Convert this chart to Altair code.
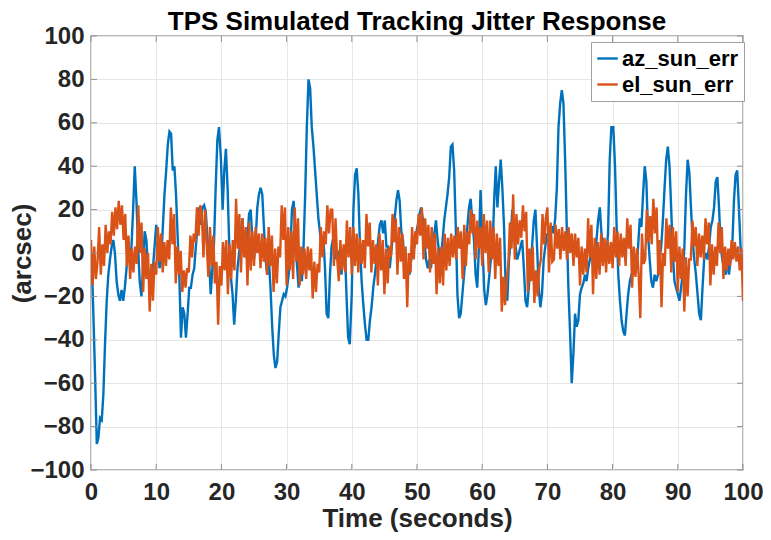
import altair as alt
import pandas as pd

# ---- data ----
az_time = [0, 0.13, 0.38, 0.63, 0.89, 1.14, 1.39, 1.65, 1.9, 2.15, 2.41, 2.66, 2.91, 3.17, 3.42, 3.67, 3.93, 4.18, 4.43, 4.69,
           4.94, 5.19, 5.45, 5.7, 5.95, 6.21, 6.46, 6.71, 6.97, 7.22, 7.47, 7.73, 7.98, 8.23, 8.49, 8.74, 8.99, 9.25, 9.5, 9.75,
           10.0, 10.26, 10.51, 10.77, 11.02, 11.27, 11.53, 11.78, 12.03, 12.28, 12.54, 12.79, 13.04, 13.3, 13.55, 13.8, 14.06,
           14.31, 14.56, 14.82, 15.07, 15.32, 15.58, 15.83, 16.08, 16.34, 16.59, 16.84, 17.1, 17.35, 17.6, 17.86, 18.11, 18.36,
           18.62, 18.87, 19.12, 19.38, 19.63, 19.93, 20.19, 20.44, 20.69, 20.95, 21.2, 21.45, 21.71, 21.96, 22.21, 22.47, 22.72,
           22.97, 23.23, 23.48, 23.73, 23.99, 24.24, 24.49, 24.75, 25.0, 25.25, 25.51, 25.76, 26.01, 26.27, 26.52, 26.77, 27.03,
           27.28, 27.53, 27.79, 28.04, 28.29, 28.55, 28.8, 29.05, 29.31, 29.56, 29.81, 30.07, 30.32, 30.57, 30.82, 31.08, 31.33,
           31.58, 31.84, 32.09, 32.34, 32.6, 32.85, 33.1, 33.36, 33.61, 33.86, 34.12, 34.37, 34.62, 34.88, 35.13, 35.38, 35.64,
           35.89, 36.14, 36.4, 36.65, 36.9, 37.16, 37.41, 37.66, 37.92, 38.17, 38.42, 38.68, 38.93, 39.18, 39.44, 39.69, 39.99,
           40.25, 40.5, 40.75, 41.01, 41.26, 41.51, 41.77, 42.02, 42.27, 42.53, 42.78, 43.03, 43.29, 43.54, 43.79, 44.05, 44.3,
           44.55, 44.81, 45.06, 45.31, 45.57, 45.82, 46.07, 46.33, 46.58, 46.83, 47.09, 47.34, 47.59, 47.85, 48.1, 48.35, 48.61,
           48.86, 49.11, 49.37, 49.62, 49.87, 50.13, 50.38, 50.63, 50.88, 51.14, 51.39, 51.65, 51.9, 52.15, 52.4, 52.66, 52.91,
           53.16, 53.42, 53.67, 53.92, 54.18, 54.43, 54.68, 54.94, 55.19, 55.44, 55.7, 55.95, 56.2, 56.46, 56.71, 56.96, 57.22,
           57.47, 57.72, 57.98, 58.23, 58.48, 58.74, 58.99, 59.24, 59.5, 59.75, 60.05, 60.31, 60.56, 60.81, 61.07, 61.32, 61.57,
           61.83, 62.08, 62.33, 62.59, 62.84, 63.09, 63.35, 63.6, 63.85, 64.11, 64.36, 64.61, 64.87, 65.12, 65.37, 65.63, 65.88,
           66.13, 66.39, 66.64, 66.89, 67.15, 67.4, 67.65, 67.91, 68.16, 68.41, 68.67, 68.92, 69.17, 69.43, 69.68, 69.93, 70.19,
           70.44, 70.69, 70.95, 71.2, 71.45, 71.7, 71.96, 72.21, 72.46, 72.72, 72.97, 73.22, 73.48, 73.73, 73.98, 74.24, 74.49,
           74.74, 75.0, 75.25, 75.5, 75.76, 76.01, 76.26, 76.52, 76.77, 77.02, 77.28, 77.53, 77.78, 78.04, 78.29, 78.54, 78.8,
           79.05, 79.3, 79.56, 79.81, 80.11, 80.37, 80.62, 80.87, 81.13, 81.38, 81.63, 81.89, 82.14, 82.39, 82.65, 82.9, 83.15,
           83.41, 83.66, 83.91, 84.17, 84.42, 84.67, 84.93, 85.18, 85.43, 85.69, 85.94, 86.19, 86.45, 86.7, 86.95, 87.21, 87.46,
           87.71, 87.97, 88.22, 88.47, 88.73, 88.98, 89.23, 89.49, 89.74, 90.0, 90.25, 90.5, 90.75, 91.01, 91.26, 91.51, 91.77,
           92.02, 92.27, 92.53, 92.78, 93.03, 93.28, 93.54, 93.79, 94.04, 94.3, 94.55, 94.8, 95.06, 95.31, 95.56, 95.82, 96.07,
           96.32, 96.58, 96.83, 97.08, 97.34, 97.59, 97.85, 98.1, 98.35, 98.61, 98.86, 99.11, 99.37, 99.62, 99.87, 100]

az_sun_err = [-2, -5, -30, -57, -88, -85, -76, -77, -65, -42, -22, -10, -3, 3, 6, 0, -13, -19, -22, -17,
              -22, -16, -7, 3, -3, 3, 20, 40, 24, 3, -13, -20, -7, 10, 6, -7, -13, -10, -7, 3,
              13, 7, -7, -3, 12, 27, 38, 50, 56, 55, 38, 40, 27, 7, -11, -39, -25,
              -28, -39, -28, -16, -16, -10, -7, 3, 12, 21, 13, 21, 22, 19, 7, -3, -19,
              -7, 5, 30, 52, 58, 43, 20, 38, 48, 30, 4, -11, -19, -33, -22, -7, 0,
              9, 16, 3, -2, 6, 18, 20, 6, -3, 6, 21, 27, 30, 27, 12, -3, -10,
              -3, -16, -34, -47, -53, -50, -37, -25, -22, -19, -20, -16, -10, 0, 20, 24, 9,
              -5, -16, -7, -13, 3, 27, 58, 80, 76, 58, 49, 38, 27, 16, 9, 0, 7,
              -7, -28, -30, -10, 3, 7, 0, -3, 1, -3, -10, 0, 3, -19, -39, -42, -19,
              20, 36, 39, 27, 3, -13, -24, -33, -40, -40, -31, -25, -16, -10, -3, 6, 13,
              15, 9, 15, 3, 3, -7, 1, 9, 16, 24, 29, 24, 10, 6, -7, -10, -7,
              -10, -3, 1, 3, 9, 13, 18, 21, 16, 6, -3, -7, -3, -7, 3, 9, 15,
              6, 0, -3, 6, 15, 21, 27, 35, 49, 50, 38, 12, -19, -30, -28, -19, -10,
              0, 12, 21, 25, 15, 6, -10, -16, 3, 29, 3, -17, -24, -19, -11, -3, 0,
              24, 40, 21, 33, 43, 30, 12, -16, -22, -3, 6, 20, 9, 3, -3, 0, 3,
              6, -7, -22, -25, -16, -3, 3, 15, 20, 3, -16, -25, -19, -3, 3, 9, 6,
              12, 12, 9, 16, 30, 58, 69, 75, 69, 43, 12, -16, -37, -60, -47, -28, -34,
              -31, -19, -16, -14, -10, -13, -7, -3, 0, 3, 0, 6, 15, 21, 9, 3, -3,
              0, 9, 43, 58, 58, 40, 12, -10, -22, -31, -36, -38, -28, -19, -13, -10, -7,
              -10, -7, 3, 16, 12, 27, 40, 33, 9, -3, -13, -16, -10, -13, -10, -3, 3,
              15, 30, 43, 49, 40, 21, 0, -13, -16, -19, -22, -16, -10, 3, 27, 43, 37,
              21, 6, -3, -10, -19, -28, -31, -16, -3, 0, -3, 3, 12, 15, 21, 33, 35,
              21, 3, -3, -7, -10, -3, -10, -3, 3, 24, 36, 38, 21, 3, -7, -3]

# el_sun_err sampled every 0.25 s (4 readings per second, 0 .. 100 s)
el_sun_err = [
    6, -15, 3, -12, -4, 12, -10, 4, -6, 13, 0, 10, 4, 19, 8, 21, 11, 24, 13, 22,
    6, 18, -6, 8, -12, 2, -9, 3, -5, 22, 0, 14, -18, 2, -12, 0, -27, -5, -22, -4,
    -10, 12, -4, 9, -9, 5, -6, 6, -3, 21, 4, 18, -14, 3, -10, 1, -18, -8, -16, -7,
    -9, 8, -2, 9, 5, 21, 8, 22, 18, -2, 20, 4, -11, 12, -6, 8, -14, -4, -33, -6,
    -15, 5, -8, 6, -19, 4, -12, 6, -8, 25, 2, 18, -9, 16, -2, 12, -15, 14, -8, 10,
    -6, 12, 0, 9, -7, 9, -4, 7, -10, 12, -6, 8, -18, 2, -14, 3, -2, 22, 6, 21,
    -15, 12, -8, 10, -12, 21, -4, 16, -15, 3, -10, 2, -12, 3, -8, 2, -21, -4, -18, -5,
    -9, 12, -2, 10, 4, 22, 9, 20, 20, -6, 16, -2, -13, 6, -8, 4, -9, 15, -2, 12,
    -10, 12, -6, 9, -9, 7, -5, 6, -7, 18, 3, 14, -9, 6, -5, 4, -15, 9, -8, 6,
    -19, 2, -14, 3, -2, 18, 5, 16, -10, 12, -4, 9, -12, 3, -25, 0, -9, 12, -3, 10,
    4, 18, 8, 21, -3, 16, 2, 13, -9, 12, -5, 9, -19, 2, -14, 3, -15, 9, -8, 7,
    -6, 9, -2, 8, -3, 12, 2, 10, -12, 13, -6, 10, 4, 20, 9, 18, -3, 15, 2, 12,
    -6, 18, 0, 15, -9, 15, -3, 12, -12, 9, -6, 7, -27, -11, -24, -12, -6, 14, 2, 27,
    -3, 18, 4, 15, 7, 22, 10, 19, -18, 2, -13, 3, -23, -8, -20, -7, -3, 18, 4, 16,
    21, -9, 14, -4, -3, 13, 2, 11, -3, 12, 1, 10, -3, 12, 0, 9, -6, 9, -2, 7,
    -15, 3, -10, 2, -9, 16, -2, 13, -19, 7, -12, 5, -10, 9, -6, 7, -9, 6, -5, 5,
    -7, 12, -2, 10, -6, 9, -2, 7, -6, 16, 2, 13, -16, 3, -11, 2, -10, -30, 9, -5,
    -3, 20, 5, 17, 4, 25, 9, 21, -10, 6, -25, 0, -6, 16, 2, 13, -9, 12, -4, 10,
    -18, 3, -12, 2, -27, -2, -20, -3, -3, 15, 3, 12, -6, 9, -2, 8, -3, 16, 4, 14,
    -15, 4, -10, 3, -6, 14, 0, 12, -12, 3, -8, 2, -6, 6, -3, 5, -4, 3, -8, 2,
    -22]
el_time = [i * 0.25 for i in range(len(el_sun_err))]

series_names = ["az_sun_err", "el_sun_err"]
series_colors = ["#0072BD", "#D95319"]
x_ticks = [0, 10, 20, 30, 40, 50, 60, 70, 80, 90, 100]
y_ticks = [-100, -80, -60, -40, -20, 0, 20, 40, 60, 80, 100]

title_text = "TPS Simulated Tracking Jitter Response"
x_title = "Time (seconds)"
y_title = "(arcsec)"

# ---- build table ----
df = pd.concat([
    pd.DataFrame({"t": az_time, "v": az_sun_err, "series": series_names[0]}),
    pd.DataFrame({"t": el_time, "v": el_sun_err, "series": series_names[1]}),
], ignore_index=True)

FONT = "Liberation Sans"
TXT = "#262626"
W, H = 652, 434

x_scale = alt.Scale(domain=[0, 100], nice=False, zero=False)
y_scale = alt.Scale(domain=[-100, 100], nice=False, zero=False)
x_axis = alt.Axis(values=x_ticks, title=x_title, labelPadding=10, labelFlush=False,
                  titleX=W / 2, titleY=48, titleBaseline="middle", titleAlign="center")
y_axis = alt.Axis(values=y_ticks, title=y_title, labelPadding=7, labelFlush=False,
                  titleX=-69, titleY=H / 2, titleAngle=-90, titleBaseline="middle",
                  titleAlign="center")

lines = alt.Chart(df).mark_line(strokeWidth=2.4, clip=True).encode(
    x=alt.X("t:Q", scale=x_scale, axis=x_axis),
    y=alt.Y("v:Q", scale=y_scale, axis=y_axis),
    color=alt.Color("series:N",
                    scale=alt.Scale(domain=series_names, range=series_colors),
                    legend=alt.Legend(title=None, orient="none", legendX=W - 152, legendY=6,
                                      symbolType="stroke", symbolStrokeWidth=2.4, symbolSize=420,
                                      labelFont=FONT, labelFontSize=22, labelFontWeight="bold",
                                      labelColor="#000000", fillColor="white", strokeColor="#a0a0a0",
                                      padding=5, rowPadding=3, labelOffset=3, labelLimit=300)),
)

xt = pd.DataFrame({"x": x_ticks})
yt = pd.DataFrame({"y": y_ticks})
tick_color = "#8f8f8f"
bx = alt.Chart(xt).mark_rule(color=tick_color, strokeWidth=1).encode(
    x=alt.X("x:Q", scale=x_scale, axis=x_axis), y=alt.value(H), y2=alt.value(H - 6))
tx = alt.Chart(xt).mark_rule(color=tick_color, strokeWidth=1).encode(
    x=alt.X("x:Q", scale=x_scale, axis=x_axis), y=alt.value(0), y2=alt.value(6))
ly = alt.Chart(yt).mark_rule(color=tick_color, strokeWidth=1).encode(
    y=alt.Y("y:Q", scale=y_scale, axis=y_axis), x=alt.value(0), x2=alt.value(6))
ry = alt.Chart(yt).mark_rule(color=tick_color, strokeWidth=1).encode(
    y=alt.Y("y:Q", scale=y_scale, axis=y_axis), x=alt.value(W), x2=alt.value(W - 6))

title_mark = alt.Chart(pd.DataFrame({"label": [title_text]})).mark_text(
    font=FONT, fontSize=26, fontWeight="bold", color="#000000",
    align="center", baseline="top"
).encode(x=alt.value(W / 2), y=alt.value(-27), text="label:N")

chart = alt.layer(lines, bx, tx, ly, ry, title_mark).properties(
    width=W, height=H,
    autosize=alt.AutoSizeParams(type="none"),
    padding={"left": 83, "top": 28, "right": 20, "bottom": 62},
).configure_view(
    stroke="#a0a0a0", strokeWidth=1.5
).configure_axis(
    domain=False, ticks=False, grid=True, gridColor="#e6e6e6", gridWidth=1,
    labelFont=FONT, labelFontSize=24, labelFontWeight="bold", labelColor=TXT,
    titleFont=FONT, titleFontSize=26, titleFontWeight="bold", titleColor=TXT,
)

chart.save("out.html", embed_options={"renderer": "svg", "actions": False})
